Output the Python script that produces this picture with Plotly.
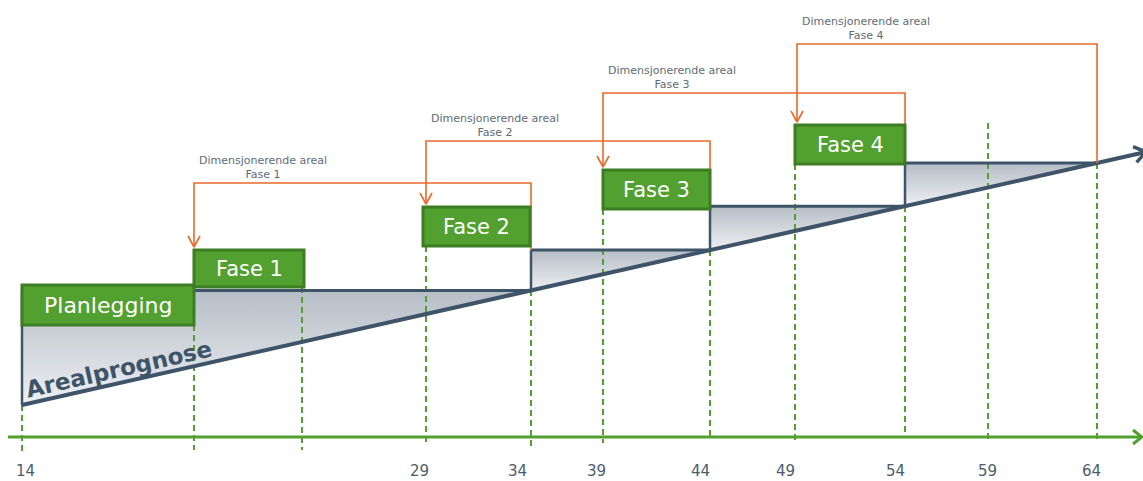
import math
import plotly.graph_objects as go

# Timeline (schematic positions on the drawing, screen-like units)
timeline_x = [22, 194, 302, 426, 531, 603, 710, 795, 905, 988, 1097]
timeline_top = [325, 325, 287, 246, 290, 209, 250, 164, 206, 123, 163]
timeline_bottom = [452, 450, 450, 443, 448, 443, 438, 441, 436, 443, 443]
axis_y = 437

year_labels = ["14", "29", "34", "39", "44", "49", "54", "59", "64"]
year_label_x = [25, 419, 517, 596, 700, 785, 895, 987, 1091]

# Area forecast line (start and end point)
prognose_x = [22, 1097]
prognose_y = [405, 163]

# Stepwise dimensioning area: each step ends where it meets the forecast
step_start = [22, 531, 710, 905]
step_end = [531, 710, 905, 1097]

# Phase boxes
phases = ["Planlegging", "Fase 1", "Fase 2", "Fase 3", "Fase 4"]
phase_x0 = [22, 194, 423, 603, 795]
phase_x1 = [194, 304, 530, 710, 905]
phase_top = [285, 250, 207, 170, 125]
phase_bottom = [325, 287, 246, 209, 164]

# "Dimensjonerende areal" brackets
bracket_phase = ["Fase 1", "Fase 2", "Fase 3", "Fase 4"]
bracket_left = [194, 426, 603, 797]
bracket_right = [531, 710, 905, 1097]
bracket_top = [183, 141, 93, 44]
bracket_tip = [247, 204, 167, 122]
bracket_right_end = [250, 208, 163, 163]

GREEN = "#52a02f"
GREEN_DARK = "#3d7d24"
SLATE = "#3e5468"
ORANGE = "#e8692a"
TEXT_GREY = "#4c5c6c"
FONT = "DejaVu Sans"

slope = (prognose_y[1] - prognose_y[0]) / (prognose_x[1] - prognose_x[0])


def prognose(x):
    return prognose_y[0] + slope * (x - prognose_x[0])


fig = go.Figure()

# Grey shaded steps between dimensioning area and forecast (darker at the top)
for a, b in zip(step_start, step_end):
    level = prognose(b)
    fig.add_trace(go.Scatter(
        x=[a, a, b, a], y=[prognose(a), level, level, prognose(a)],
        mode="lines", fill="toself",
        fillgradient=dict(type="vertical",
                          colorscale=[[0, "#eef0f2"], [1, "#b5bdc6"]]),
        line=dict(color=SLATE, width=0), hoverinfo="skip", showlegend=False))

# Green dashed guide lines
for x, t, btm in zip(timeline_x, timeline_top, timeline_bottom):
    fig.add_trace(go.Scatter(
        x=[x, x], y=[t, btm], mode="lines",
        line=dict(color=GREEN, width=2, dash="6px,4px"),
        hoverinfo="skip", showlegend=False))

# Step outlines
for i, (a, b) in enumerate(zip(step_start, step_end)):
    level = prognose(b)
    lower = prognose(a) if i == 0 else prognose(step_end[i - 1])
    fig.add_trace(go.Scatter(
        x=[a, a], y=[lower, level], mode="lines",
        line=dict(color=SLATE, width=2.5), hoverinfo="skip", showlegend=False))
    fig.add_trace(go.Scatter(
        x=[a, b], y=[level, level], mode="lines",
        line=dict(color=SLATE, width=3), hoverinfo="skip", showlegend=False))

# Time axis with arrow head
fig.add_trace(go.Scatter(
    x=[8, 1141], y=[axis_y, axis_y], mode="lines",
    line=dict(color=GREEN, width=3), hoverinfo="skip", showlegend=False))
fig.add_trace(go.Scatter(
    x=[1133, 1142, 1133], y=[axis_y - 7, axis_y, axis_y + 7], mode="lines",
    line=dict(color=GREEN, width=3), hoverinfo="skip", showlegend=False))

# Forecast line, extended towards the right edge with arrow head
x_end = 1146
fig.add_trace(go.Scatter(
    x=[prognose_x[0], x_end], y=[prognose_y[0], prognose(x_end)], mode="lines",
    line=dict(color=SLATE, width=4), hoverinfo="skip", showlegend=False))
ang = math.atan(slope)
head = 14
arms = []
for d in (math.radians(35), -math.radians(35)):
    arms.append((x_end - head * math.cos(ang + d), prognose(x_end) - head * math.sin(ang + d)))
fig.add_trace(go.Scatter(
    x=[arms[0][0], x_end, arms[1][0]],
    y=[arms[0][1], prognose(x_end), arms[1][1]], mode="lines",
    line=dict(color=SLATE, width=3.5), hoverinfo="skip", showlegend=False))

# Orange brackets with open arrow heads
for i in range(len(bracket_phase)):
    l, r, t = bracket_left[i], bracket_right[i], bracket_top[i]
    fig.add_trace(go.Scatter(
        x=[l, l, r, r], y=[bracket_tip[i], t, t, bracket_right_end[i]],
        mode="lines", line=dict(color=ORANGE, width=1.6),
        hoverinfo="skip", showlegend=False))
    fig.add_trace(go.Scatter(
        x=[l - 6, l, l + 6], y=[bracket_tip[i] - 11, bracket_tip[i], bracket_tip[i] - 11],
        mode="lines", line=dict(color=ORANGE, width=1.6),
        hoverinfo="skip", showlegend=False))

annotations = []

# Phase boxes
shapes = []
for name, x0, x1, t, b in zip(phases, phase_x0, phase_x1, phase_top, phase_bottom):
    shapes.append(dict(type="rect", xref="x", yref="y", x0=x0, x1=x1, y0=t, y1=b,
                       fillcolor=GREEN, line=dict(color=GREEN_DARK, width=3),
                       layer="above"))
    annotations.append(dict(x=(x0 + x1) / 2, y=(t + b) / 2, text=name,
                            showarrow=False, xref="x", yref="y",
                            font=dict(family=FONT, size=22 if name == "Planlegging" else 21,
                                      color="white")))

# Bracket captions
for i, name in enumerate(bracket_phase):
    annotations.append(dict(x=bracket_left[i] + 69, y=bracket_top[i] - 16,
                            text="Dimensjonerende areal<br>" + name,
                            showarrow=False, xref="x", yref="y",
                            font=dict(family=FONT, size=11, color="#5d6b78")))

# Year labels
for lab, x in zip(year_labels, year_label_x):
    annotations.append(dict(x=x, y=481, yanchor="bottom", borderpad=0, text=lab,
                            showarrow=False, xref="x", yref="y",
                            font=dict(family=FONT, size=15, color=TEXT_GREY)))

# Forecast label along the line
annotations.append(dict(x=119, y=369, text="<b>Arealprognose</b>", showarrow=False,
                        xref="x", yref="y", textangle=math.degrees(ang),
                        font=dict(family=FONT, size=23, color=SLATE)))

fig.update_layout(
    width=1143, height=481,
    margin=dict(l=0, r=0, t=0, b=0),
    paper_bgcolor="white", plot_bgcolor="white",
    xaxis=dict(range=[0, 1143], visible=False, fixedrange=True),
    yaxis=dict(range=[481, 0], visible=False, fixedrange=True),
    shapes=shapes, annotations=annotations,
    showlegend=False,
)

fig.write_html("out.html")
